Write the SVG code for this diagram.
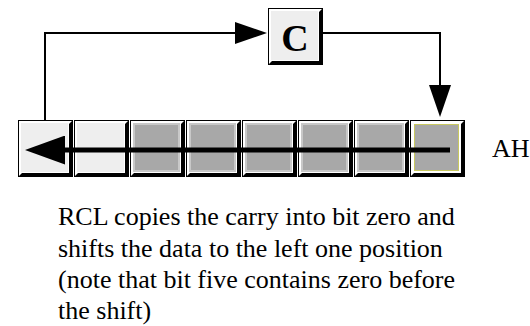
<svg xmlns="http://www.w3.org/2000/svg" xmlns:xlink="http://www.w3.org/1999/xlink" width="530" height="326" viewBox="0 0 530 326">
  <style>
    .txt { font-family: 'Liberation Serif', 'Times New Roman', Times, 'DejaVu Serif', serif; font-size: 26px; fill: #000; }
    .big { font-family: 'Liberation Serif', 'Times New Roman', Times, 'DejaVu Serif', serif; font-size: 38px; font-weight: bold; fill: #000; }
    .faceL { fill: #eeeeee; }
    .faceG { fill: #a8a8a8; stroke: #c8c8c8; stroke-width: 2; }
    .faceY { fill: #a8a8a8; stroke: #c8c860; stroke-width: 1; }
    .conn { fill: none; stroke: #000; stroke-width: 2; }
    .shift { fill: none; stroke: #000; stroke-width: 5; }
  </style>
  <defs>
    <g id="frame">
      <rect x="0.5" y="0.5" width="54" height="56" fill="#ffffff" stroke="#000" stroke-width="1"/>
      <polygon points="55,0 55,57 0,57 4,53 51,53 51,4" fill="#000"/>
    </g>
    <marker id="arrow" viewBox="0 0 32 22" refX="20" refY="11" markerWidth="32" markerHeight="22" markerUnits="userSpaceOnUse" orient="auto">
      <path d="M0,0 L32,11 L0,22 Z" fill="#000"/>
    </marker>
    <marker id="bigarrow" viewBox="0 0 40 29" refX="28" refY="14.5" markerWidth="40" markerHeight="29" markerUnits="userSpaceOnUse" orient="auto">
      <path d="M0,0 L40,14.5 L0,29 Z" fill="#000"/>
    </marker>
  </defs>

  <rect width="530" height="326" fill="#fff"/>

  <g id="carry">
    <use xlink:href="#frame" x="268" y="8"/>
    <rect class="faceL" x="271" y="11" width="47" height="49"/>
    <text class="big" x="295" y="51" text-anchor="middle">C</text>
  </g>

  <g id="ah-register">
    <g id="bit7"><use xlink:href="#frame" x="18" y="120"/><rect class="faceL" x="21" y="123" width="47" height="49"/></g>
    <g id="bit6"><use xlink:href="#frame" x="74" y="120"/><rect class="faceL" x="77" y="123" width="47" height="49"/></g>
    <g id="bit5"><use xlink:href="#frame" x="130" y="120"/><rect class="faceG" x="134" y="124" width="45" height="47"/></g>
    <g id="bit4"><use xlink:href="#frame" x="186" y="120"/><rect class="faceG" x="190" y="124" width="45" height="47"/></g>
    <g id="bit3"><use xlink:href="#frame" x="242" y="120"/><rect class="faceG" x="246" y="124" width="45" height="47"/></g>
    <g id="bit2"><use xlink:href="#frame" x="298" y="120"/><rect class="faceG" x="302" y="124" width="45" height="47"/></g>
    <g id="bit1"><use xlink:href="#frame" x="354" y="120"/><rect class="faceG" x="358" y="124" width="45" height="47"/></g>
    <g id="bit0"><use xlink:href="#frame" x="410" y="120"/><rect class="faceY" x="414.5" y="124.5" width="44" height="46"/></g>
  </g>

  <g id="connectors">
    <path class="conn" d="M45,120 V33 H255" marker-end="url(#arrow)"/>
    <path class="conn" d="M323,33 H440 V105" marker-end="url(#arrow)"/>
    <path class="shift" d="M450,150 H37" marker-end="url(#bigarrow)"/>
  </g>

  <g id="labels">
    <text class="txt" x="492" y="157">AH</text>
    <text class="txt" x="58" y="225">RCL copies the carry into bit zero and</text>
    <text class="txt" x="58" y="256.5">shifts the data to the left one position</text>
    <text class="txt" x="58" y="288">(note that bit five contains zero before</text>
    <text class="txt" x="58" y="319">the shift)</text>
  </g>
</svg>
